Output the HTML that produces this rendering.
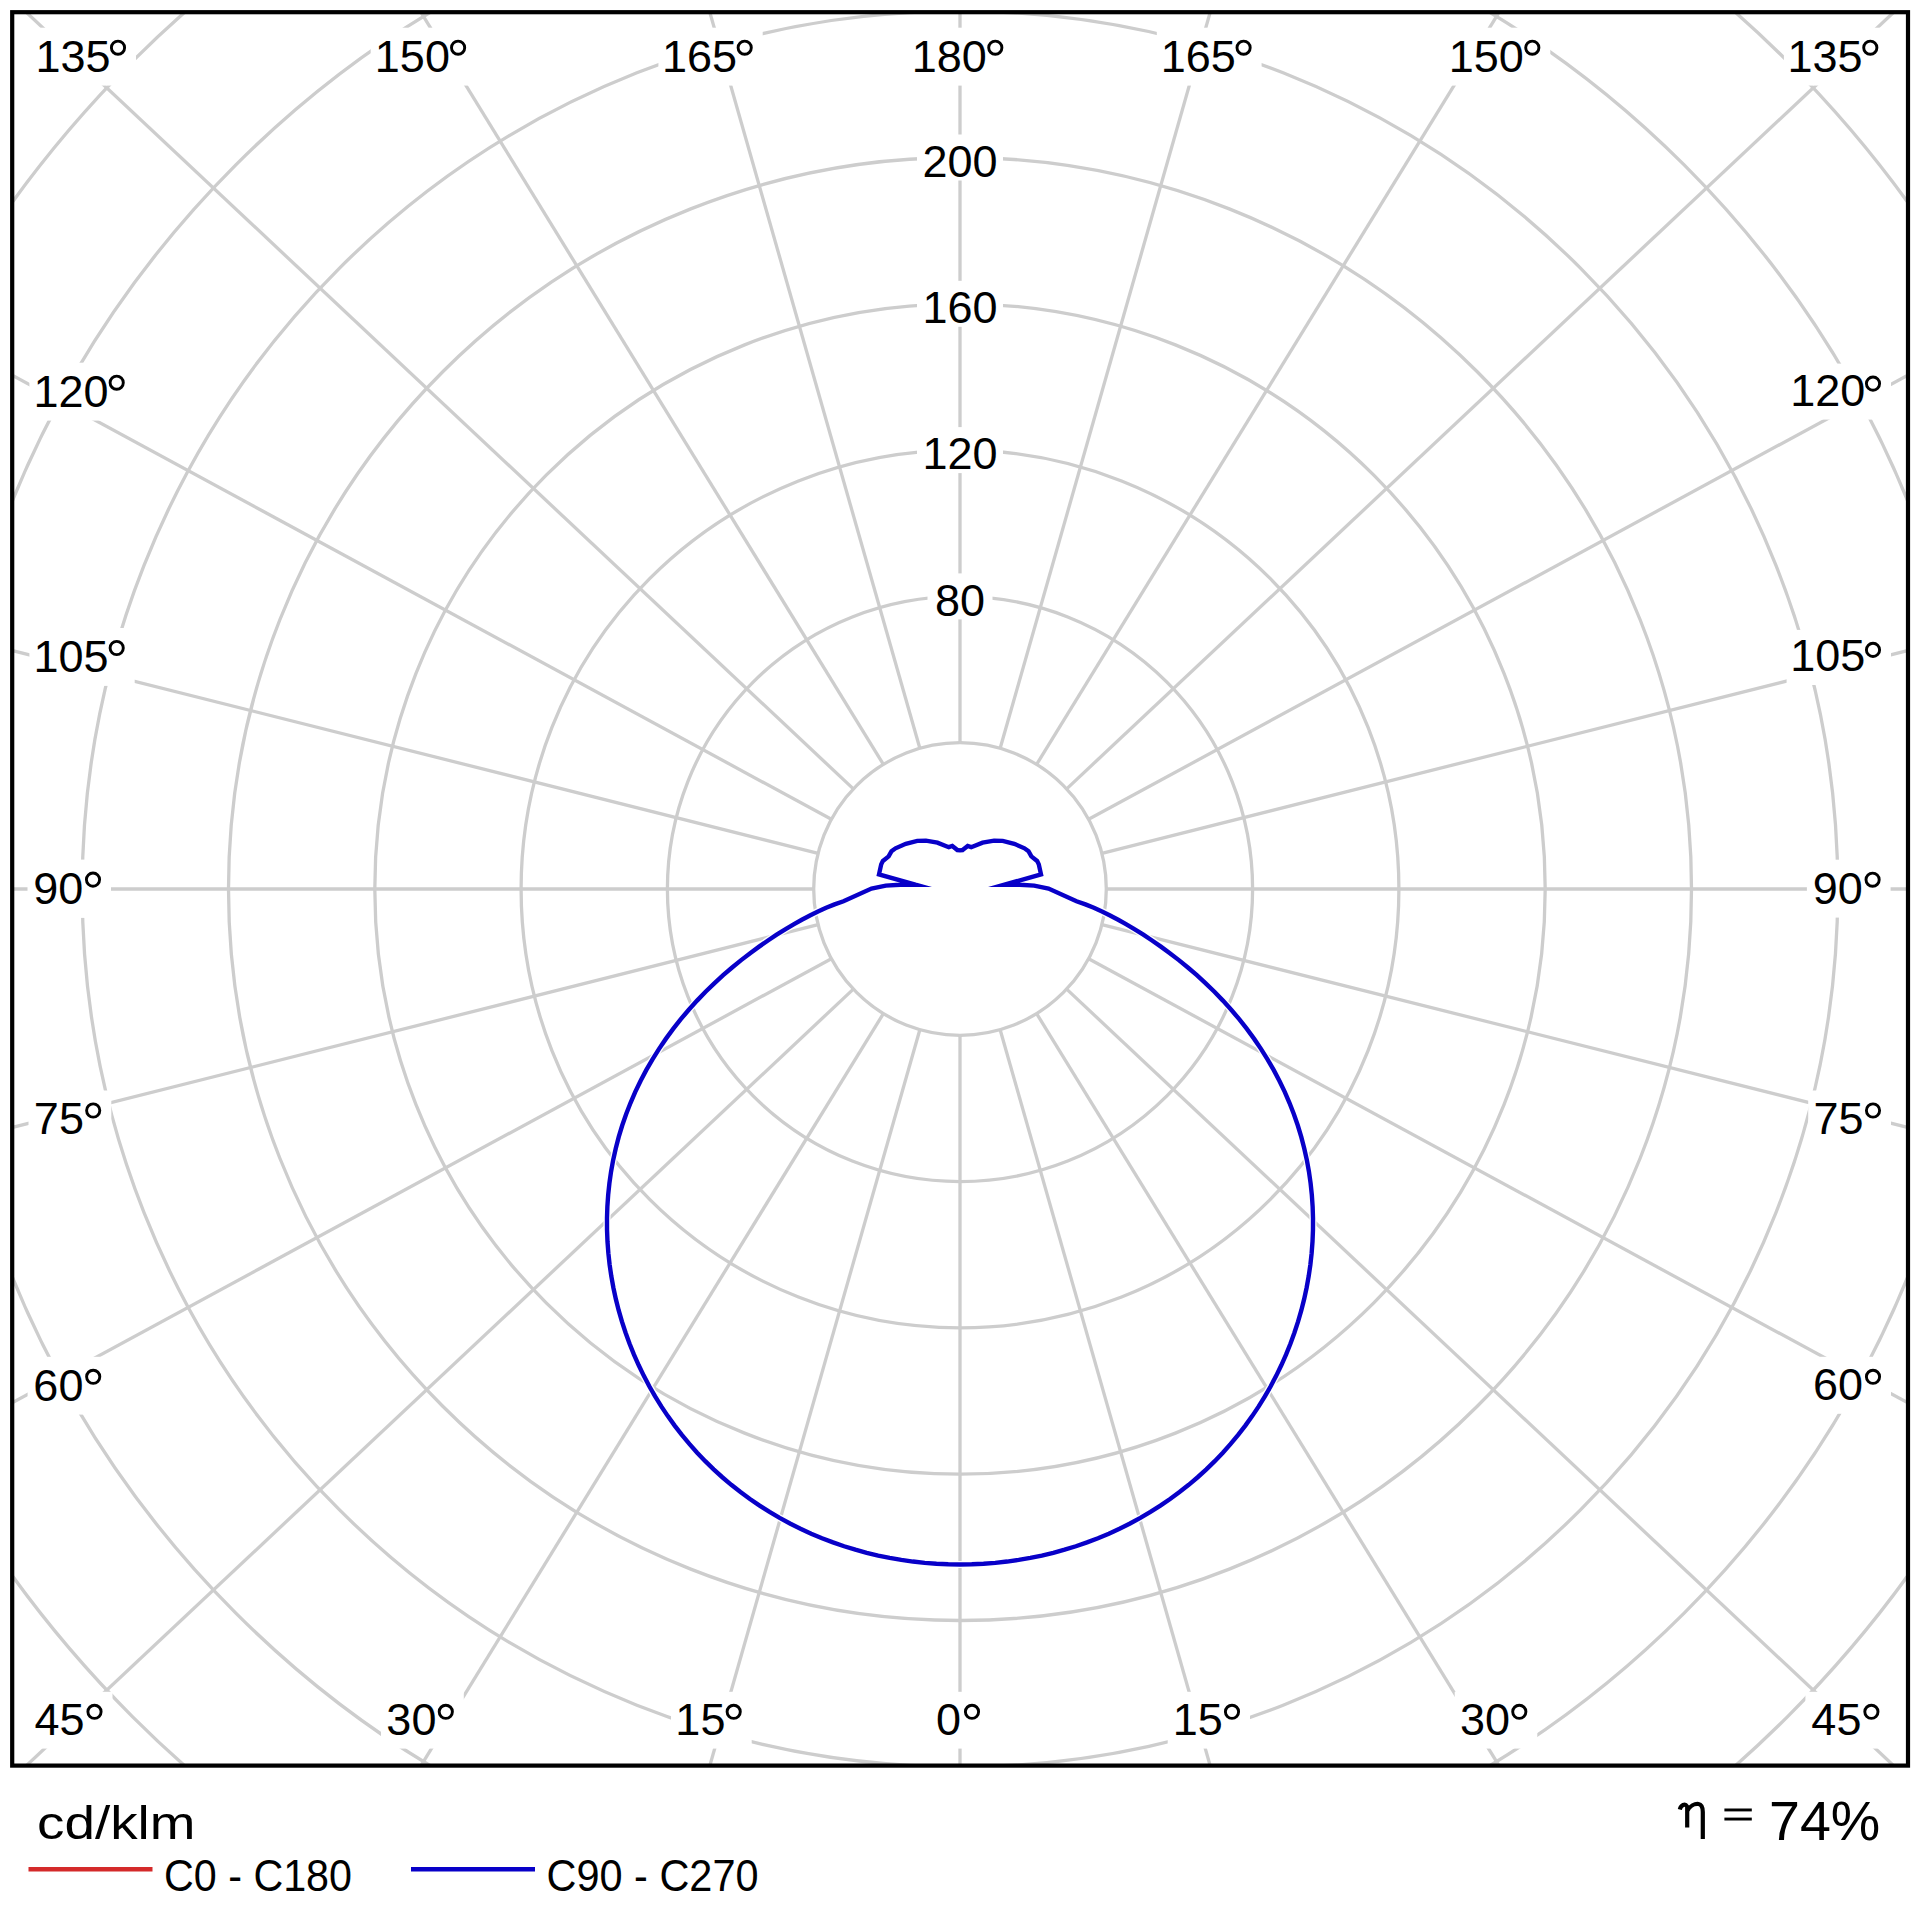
<!DOCTYPE html><html><head><meta charset="utf-8"><style>html,body{margin:0;padding:0;background:#fff;width:1920px;height:1920px;overflow:hidden}svg{display:block}text{font-family:"Liberation Sans",sans-serif;fill:#000}</style></head><body>
<svg width="1920" height="1920" viewBox="0 0 1920 1920">
<rect x="0" y="0" width="1920" height="1920" fill="#fff"/>
<defs><clipPath id="fc"><rect x="12" y="12" width="1896" height="1754"/></clipPath></defs>
<g clip-path="url(#fc)">
<circle cx="960.0" cy="889.0" r="146.30" fill="none" stroke="#cdcdcd" stroke-width="3.3"/>
<circle cx="960.0" cy="889.0" r="292.60" fill="none" stroke="#cdcdcd" stroke-width="3.3"/>
<circle cx="960.0" cy="889.0" r="438.90" fill="none" stroke="#cdcdcd" stroke-width="3.3"/>
<circle cx="960.0" cy="889.0" r="585.20" fill="none" stroke="#cdcdcd" stroke-width="3.3"/>
<circle cx="960.0" cy="889.0" r="731.50" fill="none" stroke="#cdcdcd" stroke-width="3.3"/>
<circle cx="960.0" cy="889.0" r="877.80" fill="none" stroke="#cdcdcd" stroke-width="3.3"/>
<circle cx="960.0" cy="889.0" r="1024.10" fill="none" stroke="#cdcdcd" stroke-width="3.3"/>
<circle cx="960.0" cy="889.0" r="1170.40" fill="none" stroke="#cdcdcd" stroke-width="3.3"/>
<line x1="960.00" y1="1035.30" x2="960.00" y2="3089.00" stroke="#cdcdcd" stroke-width="3.3"/>
<line x1="1000.15" y1="1029.68" x2="1563.71" y2="3004.55" stroke="#cdcdcd" stroke-width="3.3"/>
<line x1="1036.63" y1="1013.63" x2="2112.33" y2="2763.07" stroke="#cdcdcd" stroke-width="3.3"/>
<line x1="1066.65" y1="989.14" x2="2563.81" y2="2394.92" stroke="#cdcdcd" stroke-width="3.3"/>
<line x1="1088.62" y1="958.72" x2="2894.08" y2="1937.49" stroke="#cdcdcd" stroke-width="3.3"/>
<line x1="1101.88" y1="924.70" x2="3093.51" y2="1425.78" stroke="#cdcdcd" stroke-width="3.3"/>
<line x1="1106.30" y1="889.00" x2="3160.00" y2="889.00" stroke="#cdcdcd" stroke-width="3.3"/>
<line x1="1101.88" y1="853.30" x2="3093.51" y2="352.22" stroke="#cdcdcd" stroke-width="3.3"/>
<line x1="1088.62" y1="819.28" x2="2894.08" y2="-159.49" stroke="#cdcdcd" stroke-width="3.3"/>
<line x1="1066.65" y1="788.86" x2="2563.81" y2="-616.92" stroke="#cdcdcd" stroke-width="3.3"/>
<line x1="1036.63" y1="764.37" x2="2112.33" y2="-985.07" stroke="#cdcdcd" stroke-width="3.3"/>
<line x1="1000.15" y1="748.32" x2="1563.71" y2="-1226.55" stroke="#cdcdcd" stroke-width="3.3"/>
<line x1="960.00" y1="742.70" x2="960.00" y2="-1311.00" stroke="#cdcdcd" stroke-width="3.3"/>
<line x1="919.85" y1="748.32" x2="356.29" y2="-1226.55" stroke="#cdcdcd" stroke-width="3.3"/>
<line x1="883.37" y1="764.37" x2="-192.33" y2="-985.07" stroke="#cdcdcd" stroke-width="3.3"/>
<line x1="853.35" y1="788.86" x2="-643.81" y2="-616.92" stroke="#cdcdcd" stroke-width="3.3"/>
<line x1="831.38" y1="819.28" x2="-974.08" y2="-159.49" stroke="#cdcdcd" stroke-width="3.3"/>
<line x1="818.12" y1="853.30" x2="-1173.51" y2="352.22" stroke="#cdcdcd" stroke-width="3.3"/>
<line x1="813.70" y1="889.00" x2="-1240.00" y2="889.00" stroke="#cdcdcd" stroke-width="3.3"/>
<line x1="818.12" y1="924.70" x2="-1173.51" y2="1425.78" stroke="#cdcdcd" stroke-width="3.3"/>
<line x1="831.38" y1="958.72" x2="-974.08" y2="1937.49" stroke="#cdcdcd" stroke-width="3.3"/>
<line x1="853.35" y1="989.14" x2="-643.81" y2="2394.92" stroke="#cdcdcd" stroke-width="3.3"/>
<line x1="883.37" y1="1013.63" x2="-192.33" y2="2763.07" stroke="#cdcdcd" stroke-width="3.3"/>
<line x1="919.85" y1="1029.68" x2="356.29" y2="3004.55" stroke="#cdcdcd" stroke-width="3.3"/>
</g>
<rect x="32.0" y="27.7" width="104.0" height="57.9" fill="#fff"/>
<text x="73.0" y="71.6" font-size="45" text-anchor="middle">135</text>
<circle cx="118.0" cy="47.7" r="6.6" fill="none" stroke="#000" stroke-width="2.9"/>
<rect x="370.7" y="27.7" width="105.4" height="57.9" fill="#fff"/>
<text x="412.4" y="71.6" font-size="45" text-anchor="middle">150</text>
<circle cx="458.1" cy="47.7" r="6.6" fill="none" stroke="#000" stroke-width="2.9"/>
<rect x="658.4" y="27.7" width="104.3" height="57.9" fill="#fff"/>
<text x="699.5" y="71.6" font-size="45" text-anchor="middle">165</text>
<circle cx="744.7" cy="47.7" r="6.6" fill="none" stroke="#000" stroke-width="2.9"/>
<rect x="907.4" y="27.7" width="105.9" height="57.9" fill="#fff"/>
<text x="949.3" y="71.6" font-size="45" text-anchor="middle">180</text>
<circle cx="995.3" cy="47.7" r="6.6" fill="none" stroke="#000" stroke-width="2.9"/>
<rect x="1156.8" y="27.7" width="104.8" height="57.9" fill="#fff"/>
<text x="1198.2" y="71.6" font-size="45" text-anchor="middle">165</text>
<circle cx="1243.6" cy="47.7" r="6.6" fill="none" stroke="#000" stroke-width="2.9"/>
<rect x="1444.3" y="27.7" width="106.0" height="57.9" fill="#fff"/>
<text x="1486.3" y="71.6" font-size="45" text-anchor="middle">150</text>
<circle cx="1532.3" cy="47.7" r="6.6" fill="none" stroke="#000" stroke-width="2.9"/>
<rect x="1783.9" y="27.7" width="104.4" height="57.9" fill="#fff"/>
<text x="1825.1" y="71.6" font-size="45" text-anchor="middle">135</text>
<circle cx="1870.3" cy="47.7" r="6.6" fill="none" stroke="#000" stroke-width="2.9"/>
<rect x="28.5" y="1691.8" width="84.0" height="56.8" fill="#fff"/>
<text x="59.5" y="1734.6" font-size="45" text-anchor="middle">45</text>
<circle cx="94.5" cy="1711.8" r="6.6" fill="none" stroke="#000" stroke-width="2.9"/>
<rect x="381.0" y="1691.8" width="82.8" height="56.8" fill="#fff"/>
<text x="411.4" y="1734.6" font-size="45" text-anchor="middle">30</text>
<circle cx="445.8" cy="1711.8" r="6.6" fill="none" stroke="#000" stroke-width="2.9"/>
<rect x="671.0" y="1691.8" width="80.7" height="56.8" fill="#fff"/>
<text x="700.4" y="1734.6" font-size="45" text-anchor="middle">15</text>
<circle cx="733.7" cy="1711.8" r="6.6" fill="none" stroke="#000" stroke-width="2.9"/>
<rect x="929.3" y="1691.8" width="60.7" height="56.8" fill="#fff"/>
<text x="948.6" y="1734.6" font-size="45" text-anchor="middle">0</text>
<circle cx="972.0" cy="1711.8" r="6.6" fill="none" stroke="#000" stroke-width="2.9"/>
<rect x="1167.7" y="1691.8" width="82.3" height="56.8" fill="#fff"/>
<text x="1197.8" y="1734.6" font-size="45" text-anchor="middle">15</text>
<circle cx="1232.0" cy="1711.8" r="6.6" fill="none" stroke="#000" stroke-width="2.9"/>
<rect x="1454.7" y="1691.8" width="82.6" height="56.8" fill="#fff"/>
<text x="1485.0" y="1734.6" font-size="45" text-anchor="middle">30</text>
<circle cx="1519.3" cy="1711.8" r="6.6" fill="none" stroke="#000" stroke-width="2.9"/>
<rect x="1805.4" y="1691.8" width="84.0" height="56.8" fill="#fff"/>
<text x="1836.4" y="1734.6" font-size="45" text-anchor="middle">45</text>
<circle cx="1871.4" cy="1711.8" r="6.6" fill="none" stroke="#000" stroke-width="2.9"/>
<rect x="29.4" y="362.7" width="105.3" height="57.9" fill="#fff"/>
<text x="71.0" y="406.6" font-size="45" text-anchor="middle">120</text>
<circle cx="116.7" cy="382.7" r="6.6" fill="none" stroke="#000" stroke-width="2.9"/>
<rect x="29.4" y="628.0" width="105.3" height="57.9" fill="#fff"/>
<text x="71.0" y="671.9" font-size="45" text-anchor="middle">105</text>
<circle cx="116.7" cy="648.0" r="6.6" fill="none" stroke="#000" stroke-width="2.9"/>
<rect x="27.5" y="859.6" width="83.5" height="58.3" fill="#fff"/>
<text x="58.2" y="903.9" font-size="45" text-anchor="middle">90</text>
<circle cx="93.0" cy="879.6" r="6.6" fill="none" stroke="#000" stroke-width="2.9"/>
<rect x="28.5" y="1090.5" width="82.8" height="57.9" fill="#fff"/>
<text x="58.9" y="1134.4" font-size="45" text-anchor="middle">75</text>
<circle cx="93.2" cy="1110.5" r="6.6" fill="none" stroke="#000" stroke-width="2.9"/>
<rect x="27.6" y="1356.8" width="83.7" height="57.8" fill="#fff"/>
<text x="58.4" y="1400.6" font-size="45" text-anchor="middle">60</text>
<circle cx="93.2" cy="1376.8" r="6.6" fill="none" stroke="#000" stroke-width="2.9"/>
<rect x="1786.6" y="363.6" width="104.4" height="56.0" fill="#fff"/>
<text x="1827.8" y="405.6" font-size="45" text-anchor="middle">120</text>
<circle cx="1873.0" cy="383.6" r="6.6" fill="none" stroke="#000" stroke-width="2.9"/>
<rect x="1786.6" y="629.9" width="104.4" height="55.1" fill="#fff"/>
<text x="1827.8" y="671.0" font-size="45" text-anchor="middle">105</text>
<circle cx="1873.0" cy="649.9" r="6.6" fill="none" stroke="#000" stroke-width="2.9"/>
<rect x="1806.9" y="859.7" width="83.7" height="57.9" fill="#fff"/>
<text x="1837.8" y="903.6" font-size="45" text-anchor="middle">90</text>
<circle cx="1872.6" cy="879.7" r="6.6" fill="none" stroke="#000" stroke-width="2.9"/>
<rect x="1808.2" y="1090.5" width="82.8" height="57.9" fill="#fff"/>
<text x="1838.6" y="1134.4" font-size="45" text-anchor="middle">75</text>
<circle cx="1873.0" cy="1110.5" r="6.6" fill="none" stroke="#000" stroke-width="2.9"/>
<rect x="1807.2" y="1356.8" width="83.8" height="57.0" fill="#fff"/>
<text x="1838.1" y="1399.7" font-size="45" text-anchor="middle">60</text>
<circle cx="1873.0" cy="1376.8" r="6.6" fill="none" stroke="#000" stroke-width="2.9"/>
<rect x="927.5" y="573.4" width="65.0" height="46.0" fill="#fff"/>
<text x="960.0" y="615.6" font-size="45" text-anchor="middle">80</text>
<rect x="917.0" y="427.1" width="86.0" height="46.0" fill="#fff"/>
<text x="960.0" y="469.3" font-size="45" text-anchor="middle">120</text>
<rect x="917.0" y="280.8" width="86.0" height="46.0" fill="#fff"/>
<text x="960.0" y="323.0" font-size="45" text-anchor="middle">160</text>
<rect x="917.0" y="134.5" width="86.0" height="46.0" fill="#fff"/>
<text x="960.0" y="176.7" font-size="45" text-anchor="middle">200</text>
<g clip-path="url(#fc)"><path d="M962.60,850.05 L967.70,846.00 L971.20,847.20 L982.60,842.60 L994.10,840.60 L1002.70,840.90 L1014.20,843.75 L1024.50,848.30 L1028.50,851.20 L1031.35,856.40 L1037.10,860.90 L1038.80,864.40 L1041.00,874.40 L1004.00,884.80 L1019.90,884.80 L1034.20,885.60 L1048.50,888.50 L1076.51,901.25 L1085.43,904.40 L1093.84,907.81 L1102.00,911.49 L1110.06,915.46 L1118.17,919.74 L1126.39,924.37 L1134.77,929.35 L1143.33,934.71 L1152.04,940.46 L1160.90,946.61 L1169.85,953.16 L1178.86,960.11 L1187.87,967.46 L1196.84,975.20 L1205.70,983.32 L1214.42,991.79 L1222.93,1000.61 L1231.20,1009.75 L1239.19,1019.19 L1246.86,1028.91 L1254.17,1038.89 L1261.11,1049.10 L1267.66,1059.54 L1273.78,1070.16 L1279.48,1080.96 L1284.73,1091.92 L1289.54,1103.01 L1293.90,1114.22 L1297.81,1125.54 L1301.26,1136.94 L1304.26,1148.42 L1306.82,1159.96 L1308.93,1171.56 L1310.60,1183.19 L1311.83,1194.84 L1312.63,1206.51 L1313.01,1218.19 L1312.97,1229.86 L1312.51,1241.51 L1311.64,1253.13 L1310.37,1264.72 L1308.69,1276.26 L1306.61,1287.73 L1304.14,1299.14 L1301.29,1310.45 L1298.04,1321.67 L1294.41,1332.78 L1290.41,1343.77 L1286.03,1354.62 L1281.28,1365.32 L1276.17,1375.86 L1270.70,1386.22 L1264.87,1396.39 L1258.69,1406.35 L1252.18,1416.10 L1245.33,1425.62 L1238.15,1434.90 L1230.65,1443.92 L1222.85,1452.67 L1214.74,1461.15 L1206.34,1469.35 L1197.66,1477.24 L1188.72,1484.83 L1179.51,1492.10 L1170.06,1499.06 L1160.37,1505.68 L1150.46,1511.97 L1140.34,1517.91 L1130.02,1523.52 L1119.51,1528.77 L1108.83,1533.67 L1097.99,1538.21 L1087.01,1542.40 L1075.89,1546.23 L1064.64,1549.69 L1053.29,1552.79 L1041.84,1555.53 L1030.30,1557.90 L1018.70,1559.91 L1007.03,1561.56 L995.31,1562.83 L983.56,1563.75 L971.79,1564.30 L960.00,1564.48 L948.21,1564.30 L936.44,1563.75 L924.69,1562.83 L912.97,1561.56 L901.30,1559.91 L889.70,1557.90 L878.16,1555.53 L866.71,1552.79 L855.36,1549.69 L844.11,1546.23 L832.99,1542.40 L822.01,1538.21 L811.17,1533.67 L800.49,1528.77 L789.98,1523.52 L779.66,1517.91 L769.54,1511.97 L759.63,1505.68 L749.94,1499.06 L740.49,1492.10 L731.28,1484.83 L722.34,1477.24 L713.66,1469.35 L705.26,1461.15 L697.15,1452.67 L689.35,1443.92 L681.85,1434.90 L674.67,1425.62 L667.82,1416.10 L661.31,1406.35 L655.13,1396.39 L649.30,1386.22 L643.83,1375.86 L638.72,1365.32 L633.97,1354.62 L629.59,1343.77 L625.59,1332.78 L621.96,1321.67 L618.71,1310.45 L615.86,1299.14 L613.39,1287.73 L611.31,1276.26 L609.63,1264.72 L608.36,1253.13 L607.49,1241.51 L607.03,1229.86 L606.99,1218.19 L607.37,1206.51 L608.17,1194.84 L609.40,1183.19 L611.07,1171.56 L613.18,1159.96 L615.74,1148.42 L618.74,1136.94 L622.19,1125.54 L626.10,1114.22 L630.46,1103.01 L635.27,1091.92 L640.52,1080.96 L646.22,1070.16 L652.34,1059.54 L658.89,1049.10 L665.83,1038.89 L673.14,1028.91 L680.81,1019.19 L688.80,1009.75 L697.07,1000.61 L705.58,991.79 L714.30,983.32 L723.16,975.20 L732.13,967.46 L741.14,960.11 L750.15,953.16 L759.10,946.61 L767.96,940.46 L776.67,934.71 L785.23,929.35 L793.61,924.37 L801.83,919.74 L809.94,915.46 L818.00,911.49 L826.16,907.81 L834.57,904.40 L843.49,901.25 L871.50,888.50 L885.80,885.60 L900.10,884.80 L916.00,884.80 L879.00,874.40 L881.20,864.40 L882.90,860.90 L888.65,856.40 L891.50,851.20 L895.50,848.30 L905.80,843.75 L917.30,840.90 L925.90,840.60 L937.40,842.60 L948.80,847.20 L952.30,846.00 L957.40,850.05 L960.00,850.40 Z" fill="none" stroke="#fff" stroke-width="7" stroke-linejoin="round"/>
<path d="M962.60,850.05 L967.70,846.00 L971.20,847.20 L982.60,842.60 L994.10,840.60 L1002.70,840.90 L1014.20,843.75 L1024.50,848.30 L1028.50,851.20 L1031.35,856.40 L1037.10,860.90 L1038.80,864.40 L1041.00,874.40 L1004.00,884.80 L1019.90,884.80 L1034.20,885.60 L1048.50,888.50 L1076.51,901.25 L1085.43,904.40 L1093.84,907.81 L1102.00,911.49 L1110.06,915.46 L1118.17,919.74 L1126.39,924.37 L1134.77,929.35 L1143.33,934.71 L1152.04,940.46 L1160.90,946.61 L1169.85,953.16 L1178.86,960.11 L1187.87,967.46 L1196.84,975.20 L1205.70,983.32 L1214.42,991.79 L1222.93,1000.61 L1231.20,1009.75 L1239.19,1019.19 L1246.86,1028.91 L1254.17,1038.89 L1261.11,1049.10 L1267.66,1059.54 L1273.78,1070.16 L1279.48,1080.96 L1284.73,1091.92 L1289.54,1103.01 L1293.90,1114.22 L1297.81,1125.54 L1301.26,1136.94 L1304.26,1148.42 L1306.82,1159.96 L1308.93,1171.56 L1310.60,1183.19 L1311.83,1194.84 L1312.63,1206.51 L1313.01,1218.19 L1312.97,1229.86 L1312.51,1241.51 L1311.64,1253.13 L1310.37,1264.72 L1308.69,1276.26 L1306.61,1287.73 L1304.14,1299.14 L1301.29,1310.45 L1298.04,1321.67 L1294.41,1332.78 L1290.41,1343.77 L1286.03,1354.62 L1281.28,1365.32 L1276.17,1375.86 L1270.70,1386.22 L1264.87,1396.39 L1258.69,1406.35 L1252.18,1416.10 L1245.33,1425.62 L1238.15,1434.90 L1230.65,1443.92 L1222.85,1452.67 L1214.74,1461.15 L1206.34,1469.35 L1197.66,1477.24 L1188.72,1484.83 L1179.51,1492.10 L1170.06,1499.06 L1160.37,1505.68 L1150.46,1511.97 L1140.34,1517.91 L1130.02,1523.52 L1119.51,1528.77 L1108.83,1533.67 L1097.99,1538.21 L1087.01,1542.40 L1075.89,1546.23 L1064.64,1549.69 L1053.29,1552.79 L1041.84,1555.53 L1030.30,1557.90 L1018.70,1559.91 L1007.03,1561.56 L995.31,1562.83 L983.56,1563.75 L971.79,1564.30 L960.00,1564.48 L948.21,1564.30 L936.44,1563.75 L924.69,1562.83 L912.97,1561.56 L901.30,1559.91 L889.70,1557.90 L878.16,1555.53 L866.71,1552.79 L855.36,1549.69 L844.11,1546.23 L832.99,1542.40 L822.01,1538.21 L811.17,1533.67 L800.49,1528.77 L789.98,1523.52 L779.66,1517.91 L769.54,1511.97 L759.63,1505.68 L749.94,1499.06 L740.49,1492.10 L731.28,1484.83 L722.34,1477.24 L713.66,1469.35 L705.26,1461.15 L697.15,1452.67 L689.35,1443.92 L681.85,1434.90 L674.67,1425.62 L667.82,1416.10 L661.31,1406.35 L655.13,1396.39 L649.30,1386.22 L643.83,1375.86 L638.72,1365.32 L633.97,1354.62 L629.59,1343.77 L625.59,1332.78 L621.96,1321.67 L618.71,1310.45 L615.86,1299.14 L613.39,1287.73 L611.31,1276.26 L609.63,1264.72 L608.36,1253.13 L607.49,1241.51 L607.03,1229.86 L606.99,1218.19 L607.37,1206.51 L608.17,1194.84 L609.40,1183.19 L611.07,1171.56 L613.18,1159.96 L615.74,1148.42 L618.74,1136.94 L622.19,1125.54 L626.10,1114.22 L630.46,1103.01 L635.27,1091.92 L640.52,1080.96 L646.22,1070.16 L652.34,1059.54 L658.89,1049.10 L665.83,1038.89 L673.14,1028.91 L680.81,1019.19 L688.80,1009.75 L697.07,1000.61 L705.58,991.79 L714.30,983.32 L723.16,975.20 L732.13,967.46 L741.14,960.11 L750.15,953.16 L759.10,946.61 L767.96,940.46 L776.67,934.71 L785.23,929.35 L793.61,924.37 L801.83,919.74 L809.94,915.46 L818.00,911.49 L826.16,907.81 L834.57,904.40 L843.49,901.25 L871.50,888.50 L885.80,885.60 L900.10,884.80 L916.00,884.80 L879.00,874.40 L881.20,864.40 L882.90,860.90 L888.65,856.40 L891.50,851.20 L895.50,848.30 L905.80,843.75 L917.30,840.90 L925.90,840.60 L937.40,842.60 L948.80,847.20 L952.30,846.00 L957.40,850.05 L960.00,850.40 Z" fill="none" stroke="#0800c8" stroke-width="4.4" stroke-linejoin="miter" stroke-miterlimit="40"/></g>
<rect x="12.2" y="12.2" width="1895.8" height="1753.4" fill="none" stroke="#000" stroke-width="4.2"/>
<text x="37" y="1838.7" font-size="46" textLength="158.5" lengthAdjust="spacingAndGlyphs">cd/klm</text>
<line x1="28.5" y1="1869.3" x2="152.5" y2="1869.3" stroke="#d42a2a" stroke-width="4.5"/>
<text x="164" y="1891.3" font-size="44" textLength="188" lengthAdjust="spacingAndGlyphs">C0 - C180</text>
<line x1="411" y1="1869.3" x2="535" y2="1869.3" stroke="#0800c8" stroke-width="4.5"/>
<text x="546.5" y="1891.3" font-size="44" textLength="212" lengthAdjust="spacingAndGlyphs">C90 - C270</text>
<text x="1880.3" y="1840" font-size="55.6" text-anchor="end">74%</text>
<path d="M1679.8,1809.5 C1681,1805 1685,1803 1687.2,1806.5 L1687.2,1827.5 M1687.2,1811 C1690,1805.5 1695,1803.6 1698.5,1804 C1702,1804.6 1702.8,1808 1702.8,1812 L1702.8,1839" fill="none" stroke="#000" stroke-width="4.2"/>
<rect x="1724.4" y="1808.5" width="27.4" height="2.9" fill="#000"/><rect x="1724.4" y="1817.6" width="27.4" height="2.9" fill="#000"/>
</svg></body></html>
